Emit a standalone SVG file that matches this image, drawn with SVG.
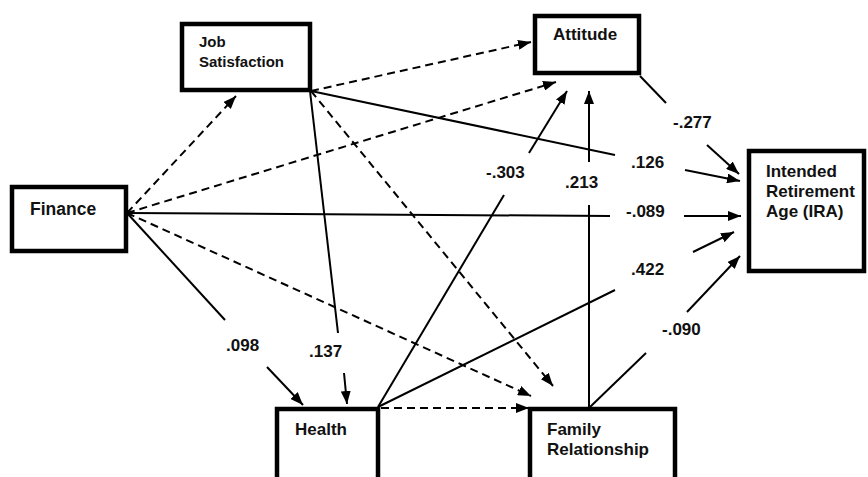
<svg xmlns="http://www.w3.org/2000/svg" width="868" height="477" viewBox="0 0 868 477">
<defs>
<marker id="ah" viewBox="0 0 13 10" refX="13" refY="5" markerWidth="13" markerHeight="10" markerUnits="userSpaceOnUse" orient="auto">
<path d="M0,0 L13,5 L0,10 z" fill="#000"/>
</marker>
<style>
.box{fill:#fff;stroke:#000;stroke-width:4.5}
.t{font-family:"Liberation Sans",Arial,sans-serif;font-weight:bold;font-size:17px;fill:#111}
.ts{font-size:15px}
.s{stroke:#000;stroke-width:2;fill:none}
.d{stroke:#000;stroke-width:2;fill:none;stroke-dasharray:8 5}
.a{marker-end:url(#ah)}
</style>
</defs>
<rect width="868" height="477" fill="#fff"/>
<g id="connectors">
<line class="s" x1="127" y1="213" x2="225" y2="320"/>
<line class="s a" x1="267" y1="367" x2="303" y2="405"/>
<line class="s" x1="127" y1="213" x2="610" y2="216"/>
<line class="s a" x1="684" y1="216" x2="741" y2="216"/>
<line class="s" x1="311" y1="91" x2="615" y2="155"/>
<line class="s a" x1="685" y1="170" x2="740" y2="181"/>
<line class="s" x1="310" y1="91" x2="338" y2="333"/>
<line class="s a" x1="344" y1="373" x2="347" y2="404"/>
<line class="s" x1="378" y1="407" x2="504" y2="195"/>
<line class="s a" x1="529" y1="153" x2="567" y2="91"/>
<line class="s" x1="378" y1="407" x2="615" y2="290"/>
<line class="s a" x1="693" y1="252" x2="734" y2="232"/>
<line class="s" x1="589" y1="407" x2="589" y2="205"/>
<line class="s a" x1="589" y1="162" x2="589" y2="91"/>
<line class="s" x1="590" y1="407" x2="646" y2="353"/>
<line class="s a" x1="687" y1="312" x2="740" y2="256"/>
<line class="s" x1="640" y1="76" x2="666" y2="103"/>
<line class="s a" x1="707" y1="145" x2="739" y2="174"/>
<line class="d a" x1="127" y1="213" x2="236" y2="96"/>
<line class="d a" x1="127" y1="213" x2="556" y2="82"/>
<line class="d a" x1="127" y1="213" x2="531" y2="396"/>
<line class="d a" x1="311" y1="91" x2="531" y2="42"/>
<line class="d a" x1="311" y1="91" x2="553" y2="386"/>
<line class="d a" x1="381" y1="408" x2="529" y2="408"/>
</g>
<g id="labels">
<text class="t" x="673" y="128">-.277</text>
<text class="t" x="631" y="168">.126</text>
<text class="t" x="486" y="178">-.303</text>
<text class="t" x="565" y="188">.213</text>
<text class="t" x="626" y="217">-.089</text>
<text class="t" x="631" y="275">.422</text>
<text class="t" x="662" y="335">-.090</text>
<text class="t" x="226" y="351">.098</text>
<text class="t" x="309" y="357">.137</text>
</g>
<g id="finance">
<rect class="box" x="12" y="187" width="114" height="64"/>
<text class="t" x="30" y="215" style="font-size:17.5px">Finance</text>
</g>
<g id="job-satisfaction">
<rect class="box" x="182" y="24" width="128" height="66"/>
<text class="t ts" x="199" y="47">Job</text>
<text class="t ts" x="199" y="67">Satisfaction</text>
</g>
<g id="attitude">
<rect class="box" x="535" y="16" width="104" height="57"/>
<text class="t" x="553" y="40">Attitude</text>
</g>
<g id="ira">
<rect class="box" x="749" y="151" width="115" height="120"/>
<text class="t" x="766" y="177">Intended</text>
<text class="t" x="766" y="197">Retirement</text>
<text class="t" x="766" y="217">Age (IRA)</text>
</g>
<g id="health">
<rect class="box" x="277" y="409" width="101" height="80"/>
<text class="t" x="295" y="435">Health</text>
</g>
<g id="family-relationship">
<rect class="box" x="530" y="409" width="145" height="80"/>
<text class="t" x="547" y="435">Family</text>
<text class="t" x="547" y="455">Relationship</text>
</g>
</svg>
